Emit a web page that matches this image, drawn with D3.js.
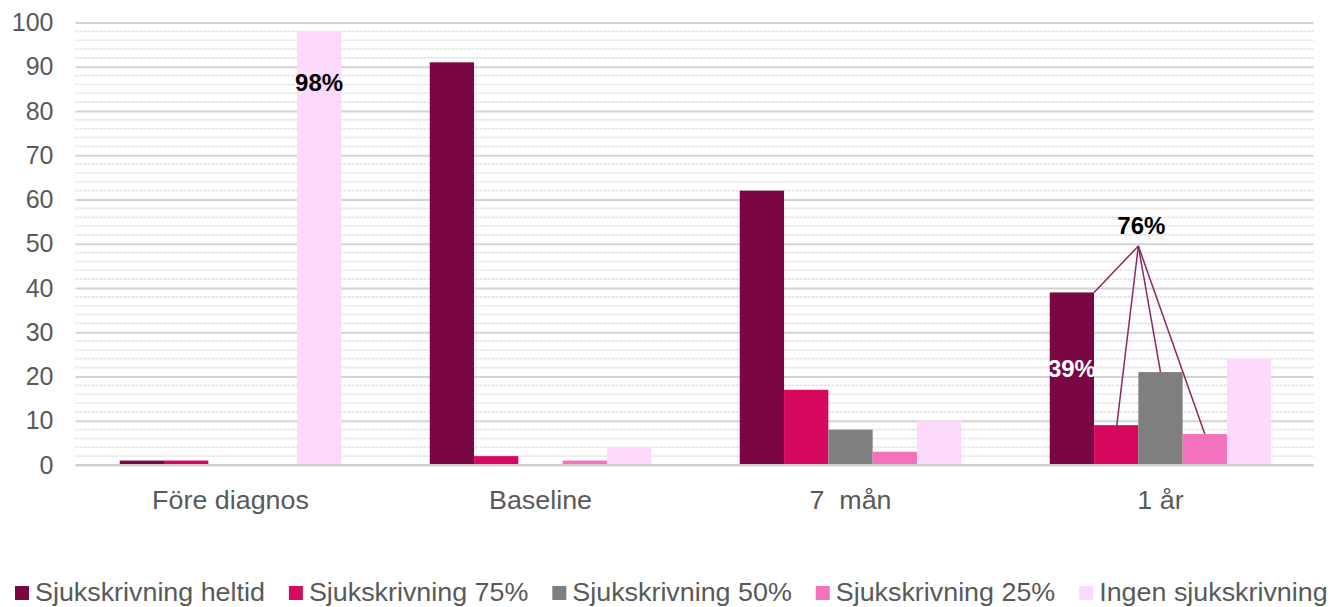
<!DOCTYPE html>
<html>
<head>
<meta charset="utf-8">
<script src="https://cdn.jsdelivr.net/npm/d3@7"></script>
<style>
  html, body { margin: 0; padding: 0; background: #fff; }
  svg { display: block; font-family: "Liberation Sans", Arial, sans-serif; }
</style>
</head>
<body>
<svg id="chart" width="1334" height="607"></svg>
<script>
// Sick-leave status at four time points (percent of patients)
const categories = ["Före diagnos", "Baseline", "7  mån", "1 år"];
const seriesNames = ["Sjukskrivning heltid", "Sjukskrivning 75%", "Sjukskrivning 50%", "Sjukskrivning 25%", "Ingen sjukskrivning"];
const heltid = [1, 91, 62, 39];
const p75 = [1, 2, 17, 9];
const p50 = [0, 0, 8, 21];
const p25 = [0, 1, 3, 7];
const ingen = [98, 4, 10, 24];
const colors = ["#7a0644", "#d6095e", "#7f7f7f", "#f472bd", "#fdd9fc"];
const yTicks = [0, 10, 20, 30, 40, 50, 60, 70, 80, 90, 100];

const series = [heltid, p75, p50, p25, ingen];

const svg = d3.select("#chart");
const margin = { left: 75.5, right: 1315.5, top: 22.5, bottom: 465 };
const textStretch = 1.075;

const x0 = d3.scaleBand().domain(categories).range([margin.left, margin.right]).paddingInner(0).paddingOuter(0);
const groupWidth = 221.5;
const x1 = d3.scaleBand().domain(seriesNames).range([0, groupWidth]).padding(0);
const groupStart = c => x0(c) + (x0.bandwidth() - groupWidth) / 2;
const y = d3.scaleLinear().domain([0, 100]).range([margin.bottom, margin.top]);

// minor gridlines every 2 units
const minor = d3.range(2, 100, 2).filter(v => v % 10 !== 0);
svg.append("g").selectAll("line").data(minor).join("line")
  .attr("x1", margin.left).attr("x2", margin.right - 2)
  .attr("y1", d => y(d)).attr("y2", d => y(d))
  .attr("stroke", "#e4e4e4").attr("stroke-width", 1.6)
  .attr("stroke-dasharray", "3,1");

// major gridlines via axis
const yAxis = d3.axisLeft(y).tickValues(yTicks).tickSize(-(margin.right - 2 - margin.left)).tickPadding(22);
const gy = svg.append("g").attr("transform", `translate(${margin.left},0)`).call(yAxis);
gy.select(".domain").remove();
gy.selectAll(".tick line").attr("stroke", "#d3d3d3").attr("stroke-width", 2);
gy.selectAll(".tick text").attr("fill", "#595959").style("font-size", "25px")
  .attr("font-family", "Liberation Sans, Arial, sans-serif");

// bars
const rows = [];
categories.forEach((c, i) => series.forEach((s, j) => rows.push({ c, name: seriesNames[j], v: s[i], j })));
svg.append("g").selectAll("rect").data(rows).join("rect")
  .attr("x", d => groupStart(d.c) + x1(d.name))
  .attr("width", x1.bandwidth())
  .attr("y", d => y(d.v))
  .attr("height", d => y(0) - y(d.v))
  .attr("fill", d => colors[d.j]);

// baseline
svg.append("line").attr("x1", margin.left).attr("x2", margin.right - 2)
  .attr("y1", y(0)).attr("y2", y(0)).attr("stroke", "#cfcfcf").attr("stroke-width", 2);

// x category labels
const xAxis = d3.axisBottom(x0).tickSize(0).tickPadding(26);
const gx = svg.append("g").attr("transform", `translate(0,${y(0)})`).call(xAxis);
gx.select(".domain").remove();
gx.selectAll(".tick text").attr("fill", "#595959").style("font-size", "25px")
  .style("white-space", "pre").attr("xml:space", "preserve")
  .attr("font-family", "Liberation Sans, Arial, sans-serif")
  .attr("transform", `scale(${textStretch},1)`);

// value annotations
const bx = (ci, si) => groupStart(categories[ci]) + x1(seriesNames[si]);
const bc = (ci, si) => bx(ci, si) + x1.bandwidth() / 2;

svg.append("text").attr("x", bc(0, 4)).attr("y", y(ingen[0]) + 60)
  .attr("text-anchor", "middle").attr("font-weight", "bold").attr("font-size", 24)
  .attr("fill", "#000").text("98%");

svg.append("text").attr("x", bc(3, 0)).attr("y", y(heltid[3]) + 85)
  .attr("text-anchor", "middle").attr("font-weight", "bold").attr("font-size", 24)
  .attr("fill", "#fff").text("39%");

// combined share for part-time + full-time at 1 år
const apex = { x: bx(3, 2), y: y(49.5) };
const targets = [
  { x: bx(3, 1), y: y(heltid[3]) },
  { x: bc(3, 1), y: y(p75[3]) + 5 },
  { x: bc(3, 2), y: y(p50[3]) },
  { x: bc(3, 3), y: y(p25[3]) }
];
svg.append("g").selectAll("line").data(targets).join("line")
  .attr("x1", apex.x).attr("y1", apex.y)
  .attr("x2", d => d.x).attr("y2", d => d.y)
  .attr("stroke", "#8a2a62").attr("stroke-width", 1.5);

svg.append("text").attr("x", apex.x + 3).attr("y", apex.y - 12)
  .attr("text-anchor", "middle").attr("font-weight", "bold").attr("font-size", 24)
  .attr("fill", "#000").text("76%");

// legend
const legend = svg.append("g").attr("transform", "translate(15,0)");
let lx = 0;
seriesNames.forEach((n, i) => {
  legend.append("rect").attr("x", lx).attr("y", 586).attr("width", 14).attr("height", 14).attr("fill", colors[i]);
  const t = legend.append("text")
    .attr("transform", `translate(${lx + 20},601) scale(${textStretch},1)`)
    .attr("fill", "#595959").attr("font-size", 25).text(n);
  lx += 20 + t.node().getComputedTextLength() * textStretch + 24;
});
</script>
</body>
</html>
